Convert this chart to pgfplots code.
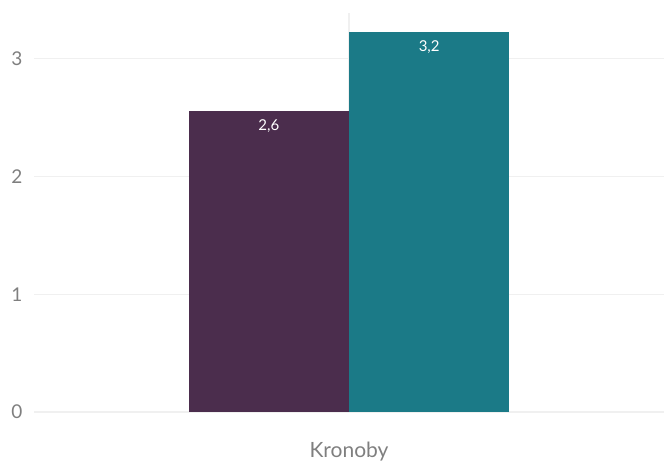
\documentclass[border=0pt]{standalone}
\usepackage{pgfplots}
\pgfplotsset{compat=1.18}
\usepackage{fontspec}
\setmainfont{Lato}
\definecolor{barA}{HTML}{4B2D4D}
\definecolor{barB}{HTML}{1B7A87}
\definecolor{gridc}{HTML}{F0F0F0}
\definecolor{tickc}{HTML}{7F7F7F}
\begin{document}
\begin{tikzpicture}[x=1bp,y=1bp]
\path[use as bounding box] (0,0) rectangle (664,461);
\begin{axis}[
  at={(34bp,49bp)}, anchor=south west,
  scale only axis, width=630bp, height=399bp,
  xmin=-1, xmax=1, ymin=0, ymax=3.39,
  axis line style={draw=none},
  tick style={draw=none},
  ytick={0,1,2,3},
  xtick={0}, xticklabels={Kronoby},
  ymajorgrids, xmajorgrids,
  grid style={gridc, line width=1.2bp},
  tick label style={font=\fontsize{19bp}{21bp}\selectfont, text=tickc},
  xticklabel style={font=\fontsize{21bp}{23bp}\selectfont, yshift=-27bp},
  yticklabel style={xshift=-8bp},
  /pgf/number format/assume math mode=true,
  clip=false,
  nodes near coords,
  point meta=explicit symbolic,
  every node near coord/.append style={anchor=north, yshift=-5bp, text=white, font=\fontsize{15bp}{17bp}\selectfont},
]
\addplot[ybar, bar width=0.509, fill=barA, draw=none, bar shift=0pt] coordinates {(-0.2545,2.557) [2,6]};
\addplot[ybar, bar width=0.509, fill=barB, draw=none, bar shift=0pt] coordinates {(0.2545,3.229) [3,2]};
\end{axis}
\end{tikzpicture}
\end{document}
